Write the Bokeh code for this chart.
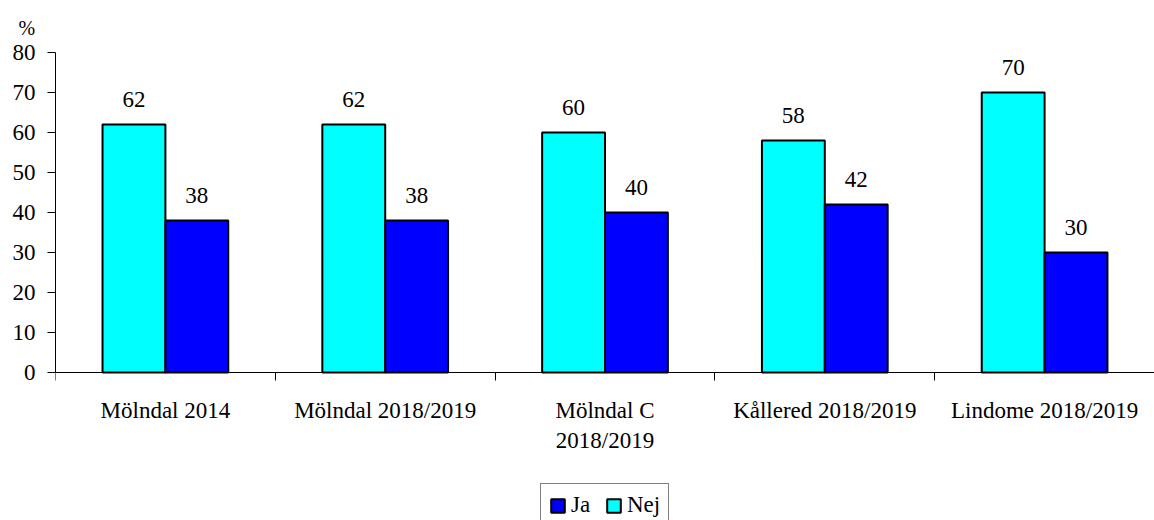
from bokeh.plotting import figure
from bokeh.models import (FixedTicker, LabelSet, ColumnDataSource,
                          Legend, LegendItem)
from bokeh.core.properties import value
from bokeh.embed import file_html
from bokeh.resources import INLINE

categories = ["Mölndal 2014", "Mölndal 2018/2019", "Mölndal C\n2018/2019",
              "Kållered 2018/2019", "Lindome 2018/2019"]
nej = [62, 62, 60, 58, 70]
ja = [38, 38, 40, 42, 30]
y_ticks = [0, 10, 20, 30, 40, 50, 60, 70, 80]

FONT = "Liberation Serif"
FS = "23px"
BAR_W = 0.286

n = len(categories)
centers = [i + 0.5 for i in range(n)]
x_nej = [c - BAR_W / 2 for c in centers]
x_ja = [c + BAR_W / 2 for c in centers]

# frame extends below zero so the legend can sit under the category labels
p = figure(frame_width=1099, frame_height=468, x_range=(0, n),
           y_range=(-37, 80),
           output_backend="svg", toolbar_location=None,
           min_border_left=55, min_border_top=52, min_border_right=0,
           min_border_bottom=0, title="%")
p.outline_line_color = None
p.xgrid.visible = False
p.ygrid.visible = False

p.title.align = "left"
p.title.offset = -37
p.title.standoff = 28
p.title.text_font = FONT
p.title.text_font_size = "20px"
p.title.text_font_style = "normal"
p.title.text_color = "black"

src_nej = ColumnDataSource(dict(x=x_nej, v=nej, t=[str(v) for v in nej]))
src_ja = ColumnDataSource(dict(x=x_ja, v=ja, t=[str(v) for v in ja]))

r_nej = p.vbar(x="x", top="v", width=BAR_W, source=src_nej,
               fill_color="#00FFFF", line_color="black", line_width=2)
r_ja = p.vbar(x="x", top="v", width=BAR_W, source=src_ja,
              fill_color="#0000FF", line_color="black", line_width=2)

for src in (src_nej, src_ja):
    p.add_layout(LabelSet(x="x", y="v", text="t", source=src,
                          text_align="center", text_baseline="alphabetic",
                          y_offset=18, text_font=value(FONT),
                          text_font_size=value(FS), text_color="black"))

# y axis
ya = p.yaxis[0]
ya.ticker = FixedTicker(ticks=y_ticks)
ya.bounds = (y_ticks[0], y_ticks[-1])
ya.major_tick_in = 0
ya.major_tick_out = 8
ya.minor_tick_line_color = None
ya.major_label_standoff = 12
ya.major_label_text_font = FONT
ya.major_label_text_font_size = FS
ya.major_label_text_color = "black"
ya.axis_line_color = "black"
ya.major_tick_line_color = "black"

# x axis drawn at y=0: labels at centers, ticks at boundaries
xa = p.xaxis[0]
xa.fixed_location = 0
xa.ticker = FixedTicker(ticks=centers, minor_ticks=list(range(n + 1)))
xa.major_label_overrides = {c: lab for c, lab in zip(centers, categories)}
xa.major_tick_line_color = None
xa.major_tick_in = 0
xa.major_tick_out = 0
xa.minor_tick_in = 0
xa.minor_tick_out = 8
xa.minor_tick_line_color = "black"
xa.major_label_standoff = 17
xa.major_label_text_font = FONT
xa.major_label_text_font_size = FS
xa.major_label_text_color = "black"
xa.axis_line_color = "black"

legend = Legend(items=[LegendItem(label="Ja", renderers=[r_ja]),
                       LegendItem(label="Nej", renderers=[r_nej])],
                orientation="horizontal", location=(485, -7),
                border_line_color="black", border_line_width=1,
                label_text_font=FONT, label_text_font_size=FS,
                label_text_color="black",
                glyph_width=17, glyph_height=17, spacing=14, padding=8,
                label_standoff=5, margin=0, background_fill_alpha=1)
p.add_layout(legend, "center")

open("out.html", "w").write(file_html(p, INLINE))
